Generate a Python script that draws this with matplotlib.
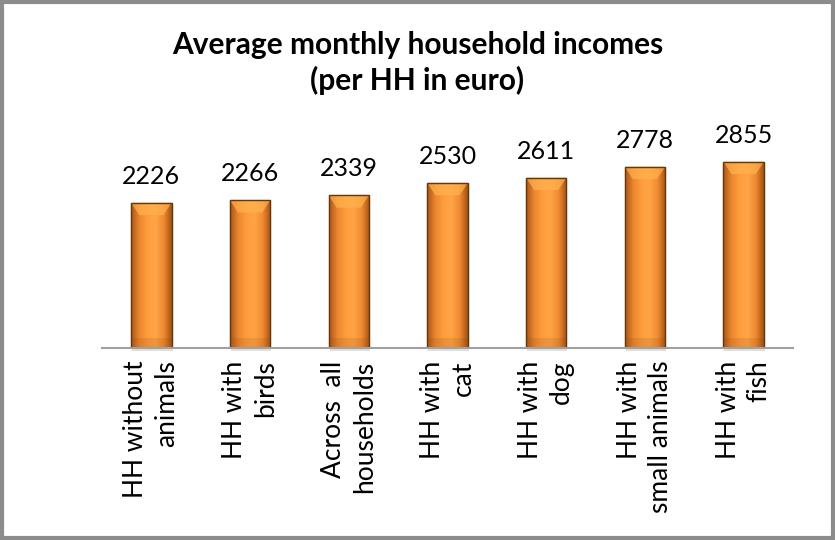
import matplotlib
matplotlib.use("Agg")
import matplotlib.pyplot as plt
import numpy as np
from matplotlib.patches import Rectangle, Polygon
from matplotlib.colors import LinearSegmentedColormap

# data
categories = ["HH without\nanimals", "HH with\nbirds", "Across  all\nhouseholds",
              "HH with\ncat", "HH with\ndog", "HH with\nsmall animals", "HH with\nfish"]
incomes = [2226, 2266, 2339, 2530, 2611, 2778, 2855]
title = "Average monthly household incomes\n(per HH in euro)"

font = "Lato"
plt.rcParams["font.family"] = [font, "DejaVu Sans"]

fig = plt.figure(figsize=(8.35, 5.4), dpi=100)
ax = fig.add_axes([102 / 835, 192 / 540, 691 / 835, 248 / 540])

x = np.arange(len(categories))
width = 0.41
bars = ax.bar(x, incomes, width=width, color="#F7923A", edgecolor="#8A4A14",
              linewidth=0.8, zorder=2)

# orange gradient across each bar: dark edges, bright middle
grad_cmap = LinearSegmentedColormap.from_list(
    "orange", ["#A8561A", "#EA862E", "#FF9C3C", "#FFA546", "#F08A30", "#A05216"])
grad = np.linspace(0, 1, 256).reshape(1, -1)
for b in bars:
    x0, w, h = b.get_x(), b.get_width(), b.get_height()
    im = ax.imshow(grad, cmap=grad_cmap, aspect="auto", extent=[x0, x0 + w, 0, h],
                   zorder=2.1, interpolation="bicubic")
    im.set_clip_path(b)
    # shadow below bar
    ax.add_patch(Rectangle((x0 + 0.01, -45), w, 45, color="#000000", alpha=0.12,
                           zorder=1, clip_on=False, lw=0))
    # top bevel
    bev = 190
    ax.add_patch(Polygon([[x0, h], [x0 + w, h], [x0 + w * 0.8, h - bev], [x0 + w * 0.2, h - bev]],
                         closed=True, color="#FFB24E", alpha=0.7, zorder=2.2, lw=0))
    # bottom shading
    ax.add_patch(Rectangle((x0, 0), w, 150, color="#8A4510", alpha=0.15, zorder=2.2, lw=0))
    ax.add_patch(Rectangle((x0, 0), w, h, fill=False, edgecolor="#6A3608", lw=1.0, zorder=2.3))
    ax.annotate(f"{int(h)}", (x0 + w / 2, h), xytext=(0, 19), textcoords="offset points",
                ha="center", va="center", fontsize=18, color="black")

ax.set_xlim(-0.5, len(categories) - 0.5)
ax.set_ylim(0, 3800)
ax.set_yticks([])
ax.set_xticks(x)
ax.set_xticklabels(categories, rotation=90, ha="center", va="top",
                   multialignment="right", fontsize=19, linespacing=1.3)
ax.tick_params(axis="x", length=0, pad=9)
for s in ["top", "right", "left"]:
    ax.spines[s].set_visible(False)
ax.spines["bottom"].set_color("#A0A0A0")
ax.spines["bottom"].set_linewidth(1.5)
ax.spines["bottom"].set_zorder(3)

fig.text(0.5, 1 - 63 / 540, title, ha="center", va="center", fontsize=21.5,
         fontweight="bold", linespacing=1.3)

# grey frame around the whole chart
fig.patches.append(Rectangle((0.002, 0.003), 0.996, 0.994, transform=fig.transFigure,
                             fill=False, edgecolor="#8C8C8C", linewidth=3))

fig.savefig("out.png", dpi=100)
